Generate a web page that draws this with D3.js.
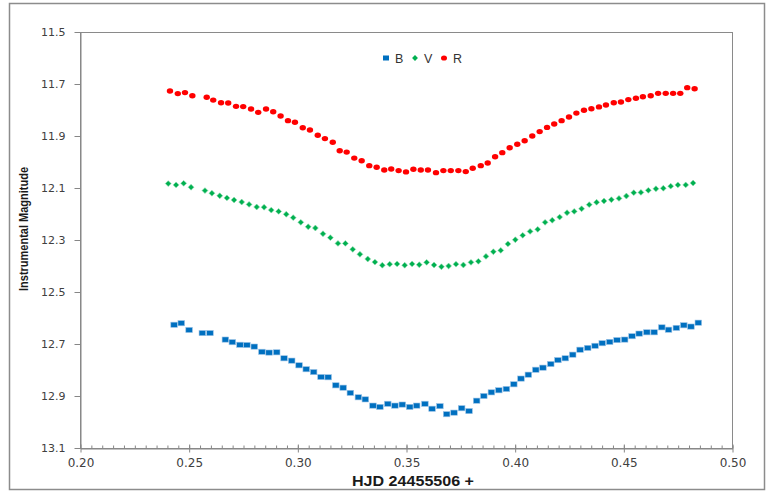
<!DOCTYPE html>
<html>
<head>
<meta charset="utf-8">
<script src="https://cdn.jsdelivr.net/npm/d3@7"></script>
<style>
  body { margin: 0; background: #fff; }
  svg { display: block; }
</style>
</head>
<body>
<div id="chart"></div>
<script>
// Light curve values (HJD offset, instrumental magnitude)
const bTime = [0.2433, 0.2466, 0.2502, 0.2563, 0.2598, 0.2669, 0.2701, 0.2736, 0.2768, 0.2802,
  0.2837, 0.2870, 0.2905, 0.2939, 0.2974, 0.3008, 0.3041, 0.3075, 0.3109, 0.3142,
  0.3177, 0.3211, 0.3244, 0.3281, 0.3313, 0.3348, 0.3380, 0.3416, 0.3449, 0.3483,
  0.3517, 0.3549, 0.3587, 0.3620, 0.3656, 0.3687, 0.3721, 0.3756, 0.3790, 0.3825,
  0.3858, 0.3893, 0.3927, 0.3962, 0.3996, 0.4029, 0.4063, 0.4097, 0.4130, 0.4166,
  0.4199, 0.4233, 0.4267, 0.4301, 0.4336, 0.4370, 0.4403, 0.4437, 0.4471, 0.4506,
  0.4540, 0.4573, 0.4608, 0.4642, 0.4677, 0.4708, 0.4744, 0.4778, 0.4811, 0.4845];
const bMag = [12.626, 12.620, 12.646, 12.658, 12.658, 12.683, 12.693, 12.703, 12.704, 12.710,
  12.730, 12.733, 12.732, 12.755, 12.764, 12.782, 12.797, 12.808, 12.827, 12.828,
  12.859, 12.868, 12.888, 12.905, 12.913, 12.937, 12.942, 12.930, 12.937, 12.933,
  12.942, 12.937, 12.930, 12.949, 12.939, 12.970, 12.964, 12.947, 12.958, 12.918,
  12.900, 12.886, 12.878, 12.873, 12.855, 12.833, 12.818, 12.799, 12.791, 12.777,
  12.762, 12.755, 12.741, 12.722, 12.715, 12.707, 12.697, 12.692, 12.685, 12.683,
  12.670, 12.660, 12.655, 12.655, 12.636, 12.645, 12.638, 12.628, 12.633, 12.618];

const vTime = [0.2406, 0.2442, 0.2477, 0.2511, 0.2575, 0.2607, 0.2643, 0.2676, 0.2709, 0.2744,
  0.2778, 0.2813, 0.2847, 0.2880, 0.2914, 0.2949, 0.2981, 0.3016, 0.3050, 0.3083,
  0.3118, 0.3152, 0.3187, 0.3221, 0.3255, 0.3288, 0.3324, 0.3357, 0.3391, 0.3425,
  0.3459, 0.3494, 0.3528, 0.3561, 0.3595, 0.3629, 0.3663, 0.3696, 0.3730, 0.3764,
  0.3799, 0.3833, 0.3868, 0.3902, 0.3936, 0.3969, 0.4003, 0.4037, 0.4071, 0.4106,
  0.4140, 0.4173, 0.4207, 0.4241, 0.4274, 0.4308, 0.4343, 0.4377, 0.4411, 0.4445,
  0.4480, 0.4514, 0.4548, 0.4581, 0.4615, 0.4650, 0.4684, 0.4718, 0.4751, 0.4787, 0.4821];
const vMag = [12.083, 12.088, 12.082, 12.097, 12.110, 12.120, 12.130, 12.138, 12.146, 12.154,
  12.163, 12.173, 12.174, 12.185, 12.190, 12.201, 12.214, 12.232, 12.249, 12.254,
  12.276, 12.291, 12.313, 12.313, 12.336, 12.355, 12.373, 12.385, 12.397, 12.393,
  12.392, 12.397, 12.392, 12.395, 12.386, 12.396, 12.403, 12.400, 12.393, 12.396,
  12.386, 12.382, 12.363, 12.345, 12.340, 12.315, 12.299, 12.282, 12.267, 12.259,
  12.232, 12.224, 12.212, 12.195, 12.190, 12.180, 12.164, 12.155, 12.150, 12.145,
  12.140, 12.131, 12.118, 12.117, 12.109, 12.103, 12.101, 12.093, 12.088, 12.088, 12.081];

const rTime = [0.2414, 0.2450, 0.2483, 0.2517, 0.2583, 0.2613, 0.2649, 0.2682, 0.2718, 0.2751,
  0.2787, 0.2820, 0.2856, 0.2889, 0.2923, 0.2957, 0.2989, 0.3025, 0.3058, 0.3094,
  0.3127, 0.3163, 0.3195, 0.3227, 0.3262, 0.3296, 0.3331, 0.3365, 0.3400, 0.3432,
  0.3466, 0.3500, 0.3534, 0.3568, 0.3601, 0.3638, 0.3672, 0.3706, 0.3741, 0.3775,
  0.3807, 0.3844, 0.3876, 0.3910, 0.3943, 0.3977, 0.4012, 0.4046, 0.4081, 0.4115,
  0.4149, 0.4182, 0.4216, 0.4250, 0.4284, 0.4319, 0.4353, 0.4388, 0.4420, 0.4456,
  0.4489, 0.4523, 0.4558, 0.4590, 0.4626, 0.4660, 0.4695, 0.4729, 0.4762, 0.4794, 0.4828];
const rMag = [11.727, 11.737, 11.733, 11.745, 11.751, 11.762, 11.772, 11.773, 11.786, 11.787,
  11.796, 11.809, 11.796, 11.807, 11.823, 11.841, 11.847, 11.868, 11.877, 11.897,
  11.910, 11.924, 11.957, 11.962, 11.985, 11.995, 12.014, 12.020, 12.031, 12.027,
  12.033, 12.038, 12.028, 12.031, 12.031, 12.041, 12.033, 12.033, 12.033, 12.037,
  12.024, 12.014, 12.004, 11.980, 11.964, 11.945, 11.932, 11.918, 11.900, 11.883,
  11.867, 11.854, 11.841, 11.827, 11.812, 11.801, 11.795, 11.788, 11.781, 11.772,
  11.769, 11.760, 11.755, 11.749, 11.745, 11.736, 11.736, 11.736, 11.736, 11.714, 11.718];

const xTicks = [0.20, 0.25, 0.30, 0.35, 0.40, 0.45, 0.50];
const xMinorTicks = d3.range(0.205, 0.5, 0.005);
const yTicks = [11.5, 11.7, 11.9, 12.1, 12.3, 12.5, 12.7, 12.9, 13.1];
const seriesNames = ["B", "V", "R"];
const seriesColors = ["#0070C0", "#00B050", "#FF0000"];

const width = 767, height = 494;
const margin = { top: 32, right: 35, bottom: 46, left: 80 };
const plotW = width - margin.left - margin.right;
const plotH = height - margin.top - margin.bottom;

const svg = d3.select("#chart").append("svg")
  .attr("width", width)
  .attr("height", height);

// outer chart frame
svg.append("rect")
  .attr("x", 9.5).attr("y", 3.5)
  .attr("width", 755).attr("height", 486)
  .attr("fill", "none")
  .attr("stroke", "#8c8c8c")
  .attr("stroke-width", 1.5);

const g = svg.append("g")
  .attr("transform", `translate(${margin.left},${margin.top})`);

const x = d3.scaleLinear().domain([0.2, 0.5]).range([0, plotW]);
const y = d3.scaleLinear().domain([11.5, 13.1]).range([0, plotH]);

// plot area border
g.append("rect")
  .attr("x", 0.5).attr("y", 0.5)
  .attr("width", plotW).attr("height", plotH)
  .attr("fill", "none")
  .attr("stroke", "#8a8a8a");

// Y-axis
g.append("g")
  .attr("transform", "translate(0.5,0)")
  .call(d3.axisLeft(y)
    .tickValues(yTicks)
    .tickSizeInner(6)
    .tickSizeOuter(0)
    .tickPadding(9)
    .tickFormat(d3.format(".1f")))
  .call(a => a.select(".domain").attr("stroke", "#868686"))
  .call(a => a.selectAll(".tick line").attr("stroke", "#868686"))
  .call(a => a.selectAll(".tick text")
    .attr("fill", "#404040")
    .style("font-family", "DejaVu Sans")
    .style("font-size", "11px"));

// X-axis minor ticks (inside)
g.append("g")
  .attr("transform", `translate(0.5,${plotH + 0.5})`)
  .call(d3.axisTop(x)
    .tickValues(xMinorTicks)
    .tickSize(3)
    .tickFormat(""))
  .call(a => a.select(".domain").remove())
  .call(a => a.selectAll(".tick line").attr("stroke", "#868686"));

// X-axis major ticks (cross)
g.append("g")
  .attr("transform", `translate(0.5,${plotH + 0.5})`)
  .call(d3.axisBottom(x)
    .tickValues(xTicks)
    .tickSizeInner(4)
    .tickSizeOuter(0)
    .tickPadding(6)
    .tickFormat(d3.format(".2f")))
  .call(a => a.select(".domain").attr("stroke", "#868686"))
  .call(a => a.selectAll(".tick line").attr("stroke", "#868686").attr("y1", -4))
  .call(a => a.selectAll(".tick text")
    .attr("fill", "#404040")
    .style("font-family", "DejaVu Sans")
    .style("font-size", "12px"));

// axis titles
svg.append("text")
  .attr("x", 413)
  .attr("y", 486)
  .attr("text-anchor", "middle")
  .attr("textLength", 122)
  .attr("lengthAdjust", "spacingAndGlyphs")
  .style("font-family", "Liberation Sans, Arial, sans-serif")
  .style("font-weight", "bold")
  .style("font-size", "14.5px")
  .attr("fill", "#1a1a1a")
  .text("HJD 24455506 +");

svg.append("text")
  .attr("transform", "translate(28,229) rotate(-90)")
  .attr("text-anchor", "middle")
  .attr("textLength", 124)
  .attr("lengthAdjust", "spacingAndGlyphs")
  .style("font-family", "Liberation Sans, Arial, sans-serif")
  .style("font-weight", "bold")
  .style("font-size", "13.5px")
  .attr("fill", "#1a1a1a")
  .text("Instrumental Magnitude");

// data marks
const bData = bTime.map((t, i) => ({ t, m: bMag[i] }));
const vData = vTime.map((t, i) => ({ t, m: vMag[i] }));
const rData = rTime.map((t, i) => ({ t, m: rMag[i] }));

g.selectAll(".bpt")
  .data(bData)
  .join("rect")
  .attr("class", "bpt")
  .attr("x", d => x(d.t) - 3.3)
  .attr("y", d => y(d.m) - 2.6)
  .attr("width", 6.6)
  .attr("height", 5.2)
  .attr("fill", seriesColors[0])
  .attr("stroke", "#9cc3e6")
  .attr("stroke-width", 0.6);

const diamond = d3.symbol().type(d3.symbolDiamond2).size(22);
g.selectAll(".vpt")
  .data(vData)
  .join("path")
  .attr("class", "vpt")
  .attr("transform", d => `translate(${x(d.t)},${y(d.m)})`)
  .attr("d", diamond)
  .attr("fill", seriesColors[1])
  .attr("stroke", "#8fdcae")
  .attr("stroke-width", 0.6);

g.selectAll(".rpt")
  .data(rData)
  .join("ellipse")
  .attr("class", "rpt")
  .attr("cx", d => x(d.t))
  .attr("cy", d => y(d.m))
  .attr("rx", 3.2)
  .attr("ry", 2.7)
  .attr("fill", seriesColors[2]);

// legend
const legend = svg.append("g").attr("transform", "translate(0,58)");
const legendX = [386, 415, 444];
legend.append("rect")
  .attr("x", legendX[0] - 3).attr("y", -2.5)
  .attr("width", 6).attr("height", 5)
  .attr("fill", seriesColors[0]);
legend.append("path")
  .attr("transform", `translate(${legendX[1]},0)`)
  .attr("d", diamond)
  .attr("fill", seriesColors[1]);
legend.append("ellipse")
  .attr("cx", legendX[2]).attr("cy", 0)
  .attr("rx", 3).attr("ry", 2.6)
  .attr("fill", seriesColors[2]);
legend.selectAll(".ltext")
  .data(seriesNames)
  .join("text")
  .attr("class", "ltext")
  .attr("x", (d, i) => legendX[i] + 9)
  .attr("y", 4.5)
  .style("font-family", "Liberation Sans, Arial, sans-serif")
  .style("font-size", "12.5px")
  .attr("fill", "#333")
  .text(d => d);
</script>
</body>
</html>
